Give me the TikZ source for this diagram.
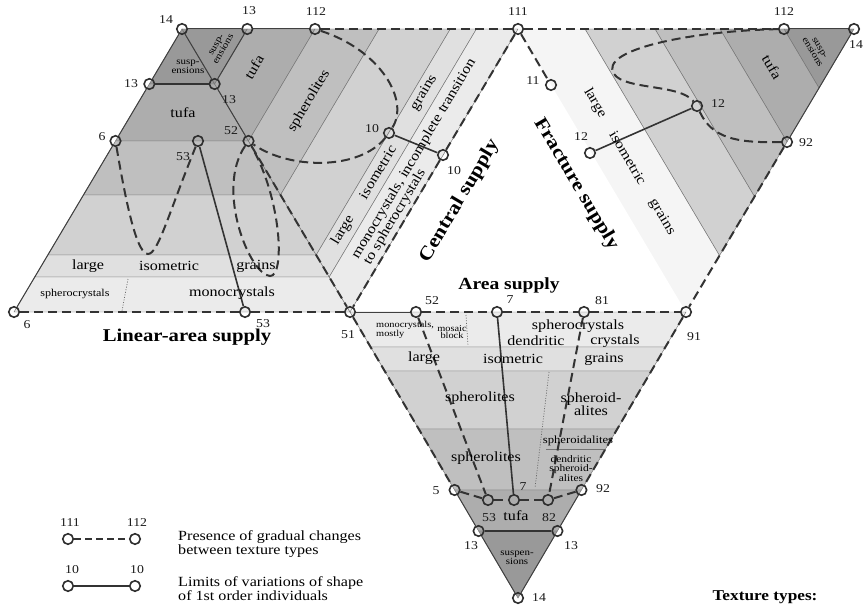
\documentclass[tikz,border=0pt]{standalone}
\usepackage{fontspec}
\setmainfont[FakeStretch=1.15]{Liberation Serif}
\definecolor{gA}{gray}{0.60}
\definecolor{gB}{gray}{0.68}
\definecolor{gC}{gray}{0.75}
\definecolor{gD}{gray}{0.82}
\definecolor{gE}{gray}{0.88}
\definecolor{gF}{gray}{0.92}
\definecolor{gW}{gray}{0.96}
\begin{document}
\begin{tikzpicture}[x=1pt,y=-1pt,
  pt/.style={circle,draw=black!82,line width=1.6pt,minimum size=10.5pt,inner sep=0pt},
  num/.style={font=\fontsize{12}{12}\selectfont,inner sep=0pt,text=black!90},
  dsh/.style={draw=black!80,line width=2pt,dash pattern=on 9pt off 5pt},
  lim/.style={draw=black!80,line width=1.6pt},
  bline/.style={draw=black!55,line width=0.45pt},
  bord/.style={draw=black!75,line width=1pt},
  dotl/.style={draw=black!60,line width=0.7pt,dash pattern=on 1pt off 1.6pt},
  txt/.style={font=\fontsize{14}{13}\selectfont,inner sep=0pt},
  sm/.style={font=\fontsize{9.5}{8.5}\selectfont,inner sep=0pt,align=center},
  ttl/.style={font=\bfseries\fontsize{18}{18}\selectfont,inner sep=0pt},
  leg/.style={font=\fontsize{14}{12.5}\selectfont,inner sep=0pt,align=left,anchor=west},
]
\useasboundingbox (0,0) rectangle (863,610);

% ---------------- band fills ----------------
% left triangle
\filldraw[bline,fill=gA] (182,29) -- (214.65,84) -- (149.35,84) -- cycle;
\filldraw[bline,fill=gB] (149.35,84) -- (214.65,84) -- (248.5,141) -- (115.5,141) -- cycle;
\filldraw[bline,fill=gC] (115.5,141) -- (248.5,141) -- (280.5,195) -- (83.5,195) -- cycle;
\filldraw[bline,fill=gD] (83.5,195) -- (280.5,195) -- (316.2,255) -- (47.8,255) -- cycle;
\filldraw[bline,fill=gE] (47.8,255) -- (316.2,255) -- (329.2,277) -- (34.8,277) -- cycle;
\filldraw[bline,fill=gF] (34.8,277) -- (329.2,277) -- (350,312) -- (14,312) -- cycle;
% upper middle triangle
\filldraw[bline,fill=gA] (182,29) -- (247.3,29) -- (214.65,84) -- cycle;
\filldraw[bline,fill=gB] (247.3,29) -- (315,29) -- (248.5,141) -- (214.65,84) -- cycle;
\filldraw[bline,fill=gC] (315,29) -- (379.1,29) -- (280.5,195) -- (248.5,141) -- cycle;
\filldraw[bline,fill=gD] (379.1,29) -- (450.3,29) -- (316.2,255) -- (280.5,195) -- cycle;
\filldraw[bline,fill=gE] (450.3,29) -- (476.4,29) -- (329.2,277) -- (316.2,255) -- cycle;
\filldraw[bline,fill=gF] (476.4,29) -- (518,29) -- (350,312) -- (329.2,277) -- cycle;
% right triangle
\filldraw[bline,fill=gA] (854,29) -- (784,29) -- (819,88) -- cycle;
\filldraw[bline,fill=gB] (784,29) -- (720,29) -- (787,141.9) -- (819,88) -- cycle;
\filldraw[bline,fill=gC] (720,29) -- (655,29) -- (754.5,196.6) -- (787,141.9) -- cycle;
\filldraw[bline,fill=gD] (655,29) -- (585,29) -- (719.5,255.6) -- (754.5,196.6) -- cycle;
\fill[gW] (585,29) -- (518,29) -- (686,312) -- (719.5,255.6) -- cycle;
\draw[bline] (585,29) -- (719.5,255.6);
% bottom triangle
\filldraw[bline,fill=gF] (350,312) -- (686,312) -- (665.4,347) -- (370.6,347) -- cycle;
\filldraw[bline,fill=gE] (370.6,347) -- (665.4,347) -- (651.3,371) -- (384.7,371) -- cycle;
\filldraw[bline,fill=gD] (384.7,371) -- (651.3,371) -- (617.3,429) -- (418.7,429) -- cycle;
\filldraw[bline,fill=gC] (418.7,429) -- (617.3,429) -- (581.4,490) -- (454.6,490) -- cycle;
\filldraw[bline,fill=gB] (454.6,490) -- (581.4,490) -- (557.4,531) -- (478.6,531) -- cycle;
\filldraw[bline,fill=gA] (478.6,531) -- (557.4,531) -- (518,598) -- cycle;
\draw[bline] (546,449) -- (605.5,449);
% dotted dividers
\draw[dotl] (128,279) -- (122,311);
\draw[dotl] (466,315) -- (468,346);
\draw[dotl] (549,372) -- (535,488);

% ---------------- points ----------------
\node[pt] (p14L) at (182,29) {};
\node[pt] (p13T) at (247.3,29) {};
\node[pt] (p112L) at (315,29) {};
\node[pt] (p111) at (518,29) {};
\node[pt] (p112R) at (784,29) {};
\node[pt] (p14R) at (854,29) {};
\node[pt] (p13L) at (149.35,84) {};
\node[pt] (p13m) at (214.65,84) {};
\node[pt] (p6) at (115.5,141) {};
\node[pt] (p53) at (198,141) {};
\node[pt] (p52) at (248.5,141) {};
\node[pt] (p10a) at (389,133) {};
\node[pt] (p10b) at (443,155) {};
\node[pt] (p11) at (551,85) {};
\node[pt] (p12a) at (590,153) {};
\node[pt] (p12b) at (697,106) {};
\node[pt] (p92) at (787,142) {};
\node[pt] (p6B) at (14,312) {};
\node[pt] (p53B) at (245,312) {};
\node[pt] (p51) at (350,312) {};
\node[pt] (p52B) at (416,312) {};
\node[pt] (p7T) at (497,312) {};
\node[pt] (p81) at (584,312) {};
\node[pt] (p91) at (686,312) {};
\node[pt] (p5B) at (454.6,490) {};
\node[pt] (p53b) at (488,500) {};
\node[pt] (p7b) at (514,500) {};
\node[pt] (p82) at (548,500) {};
\node[pt] (p92B) at (581.4,490) {};
\node[pt] (p13BL) at (478.6,531) {};
\node[pt] (p13BR) at (557.4,531) {};
\node[pt] (p14B) at (518,598) {};

% ---------------- solid borders ----------------
\draw[bord] (p14L) -- (p13T);
\draw[bord] (p13T) -- (p112L);
\draw[bord] (p112R) -- (p14R);
\draw[bord] (p14R) -- (p92);
\draw[bord] (p14L) -- (p13L);
\draw[bord] (p13L) -- (p6);
\draw[bord] (p6) -- (p6B);
\draw[bord] (p14L) -- (p13m);
\draw[bord] (p13m) -- (p52);
\draw[bord] (p13T) -- (p13m);
\draw[bord] (p51) -- (p52B);
\draw[bord] (p92B) -- (p13BR);
\draw[bord] (p13BR) -- (p14B);
\draw[bord] (p5B) -- (p13BL);
\draw[bord] (p13BL) -- (p14B);

% ---------------- dashed lines ----------------
\draw[dsh] (p112L) -- (p111);
\draw[dsh] (p111) -- (p112R);
\draw[dsh] (p92) -- (p91);
\draw[dsh] (p91) -- (p92B);
\draw[dsh] (p51) -- (p5B);
\draw[dsh] (p52B) -- (p7T);
\draw[dsh] (p7T) -- (p81);
\draw[dsh] (p81) -- (p91);
\draw[dsh] (p6B) -- (p53B);
\draw[dsh] (p53B) -- (p51);
\draw[dsh] (p52) -- (p51);
\draw[dsh] (p111) -- (p10b);
\draw[dsh] (p10b) -- (p51);
\draw[dsh] (p111) -- (p11);
\draw[dsh] (p52B) -- (p53b);
\draw[dsh] (p81) -- (p82);
\draw[dsh] (p5B) -- (p53b);
\draw[dsh] (p53b) -- (p7b);
\draw[dsh] (p7b) -- (p82);
\draw[dsh] (p82) -- (p92B);
% curves
\draw[dsh] (p112L) .. controls (380,50) and (410,100) .. (p10a)
           .. controls (360,170) and (290,170) .. (p52);
\draw[dsh] (p112R) .. controls (690,31) and (598,50) .. (614,74)
           .. controls (625,90) and (680,84) .. (p12b)
           .. controls (712,138) and (735,143) .. (p92);
\draw[dsh] (p6) .. controls (128,215) and (138,254) .. (148,254)
           .. controls (158,254) and (168,215) .. (p53);
\draw[dsh] (p52) .. controls (215,190) and (250,275) .. (270,276)
           .. controls (285,277) and (282,200) .. (p52);

% ---------------- limit lines ----------------
\draw[lim] (p13L) -- (p13m);
\draw[lim] (p10a) -- (p10b);
\draw[lim] (p12a) -- (p12b);
\draw[lim] (p53) -- (p53B);
\draw[lim] (p7T) -- (p7b);
\draw[lim] (p13BL) -- (p13BR);

% ---------------- point numbers ----------------
\node[num] at (166,20) {14};
\node[num] at (249,11) {13};
\node[num] at (316,12) {112};
\node[num] at (518,12) {111};
\node[num] at (784,12) {112};
\node[num,anchor=west] at (849,45) {14};
\node[num] at (131,84) {13};
\node[num] at (229,100) {13};
\node[num] at (102,137) {6};
\node[num] at (231,131) {52};
\node[num] at (183,157) {53};
\node[num] at (372,129) {10};
\node[num] at (454,171) {10};
\node[num] at (533,81) {11};
\node[num] at (581,137) {12};
\node[num] at (718,104) {12};
\node[num] at (806,143) {92};
\node[num] at (27,325) {6};
\node[num] at (263,324) {53};
\node[num] at (348,335) {51};
\node[num] at (432,301) {52};
\node[num] at (510,300) {7};
\node[num] at (602,301) {81};
\node[num] at (694,337) {91};
\node[num] at (436,491) {5};
\node[num] at (489,518) {53};
\node[num] at (523,487) {7};
\node[num] at (549,518) {82};
\node[num] at (603,489) {92};
\node[num] at (471,546) {13};
\node[num] at (571,546) {13};
\node[num] at (539,598) {14};

% ---------------- region texts ----------------
% left triangle
\node[sm] at (188,67) {susp-\\ensions};
\node[txt] at (183,113) {tufa};
\node[txt] at (88,266) {large};
\node[txt] at (169,266) {isometric};
\node[txt] at (256,266) {grains};
\node[font=\fontsize{10.5}{10}\selectfont,inner sep=0pt] at (75,294) {spherocrystals};
\node[txt] at (232,293) {monocrystals};
% upper middle
\node[sm,rotate=59.3] at (220,47) {susp-\\ensions};
\node[txt,rotate=59.3] at (254,67) {tufa};
\node[txt,rotate=59.3] at (309,101) {spherolites};
\node[txt,rotate=59.3] at (343,230) {large};
\node[txt,rotate=59.3] at (377.5,172) {isometric};
\node[txt,rotate=59.3] at (424,93) {grains};
\node[txt,rotate=59.3] at (414,159) {monocrystals, incomplete transition};
\node[txt,rotate=59.3] at (395,217) {to spherocrystals};
% right triangle
\node[sm,rotate=-59.3] at (816,50) {susp-\\ensions};
\node[txt,rotate=-59.3] at (772,67) {tufa};
\node[txt,rotate=-59.3] at (595,103) {large};
\node[txt,rotate=-59.3] at (628,158) {isometric};
\node[txt,rotate=-59.3] at (662,217) {grains};
% bottom triangle
\node[font=\fontsize{9}{7.5}\selectfont,inner sep=0pt,align=left,anchor=west] at (376,330) {monocrystals,\\mostly};
\node[font=\fontsize{9}{7.5}\selectfont,inner sep=0pt,align=center] at (452,332) {mosaic\\block};
\node[txt] at (578,326) {spherocrystals};
\node[txt] at (536,341) {dendritic};
\node[txt] at (615,341) {crystals};
\node[txt] at (424,358) {large};
\node[txt] at (513,359) {isometric};
\node[txt] at (604,359) {grains};
\node[txt] at (480,398) {spherolites};
\node[txt,align=center] at (591,404) {spheroid-\\alites};
\node[font=\fontsize{11}{11}\selectfont,inner sep=0pt] at (578,441) {spheroidalites};
\node[txt] at (486,458) {spherolites};
\node[sm,font=\fontsize{10}{9}\selectfont] at (571,469) {dendritic\\spheroid-\\alites};
\node[txt] at (516,516) {tufa};
\node[sm] at (517,558) {suspen-\\sions};

% ---------------- titles ----------------
\node[ttl] at (187,337) {Linear-area supply};
\node[ttl,font=\bfseries\fontsize{17}{17}\selectfont] at (509,285) {Area supply};
\node[ttl,font=\bfseries\fontsize{19}{19}\selectfont,rotate=59.3] at (460,201) {Central supply};
\node[ttl,font=\bfseries\fontsize{19}{19}\selectfont,rotate=-59.3] at (576,184) {Fracture supply};
\node[ttl,font=\bfseries\fontsize{15}{15}\selectfont] at (765,597) {Texture types:};

% ---------------- legend ----------------
\node[pt] (l111) at (68,539) {};
\node[pt] (l112) at (135,539) {};
\node[pt] (l10a) at (68,586) {};
\node[pt] (l10b) at (135,586) {};
\draw[dsh,line width=1.4pt,dash pattern=on 7pt off 4pt] (l111) -- (l112);
\draw[lim,line width=1.2pt] (l10a) -- (l10b);
\node[num] at (70,523) {111};
\node[num] at (137,523) {112};
\node[num] at (72,570) {10};
\node[num] at (137,570) {10};
\node[leg] at (178,544) {Presence of gradual changes\\between texture types};
\node[leg] at (178,589) {Limits of variations of shape\\of 1st order individuals};
\end{tikzpicture}
\end{document}
